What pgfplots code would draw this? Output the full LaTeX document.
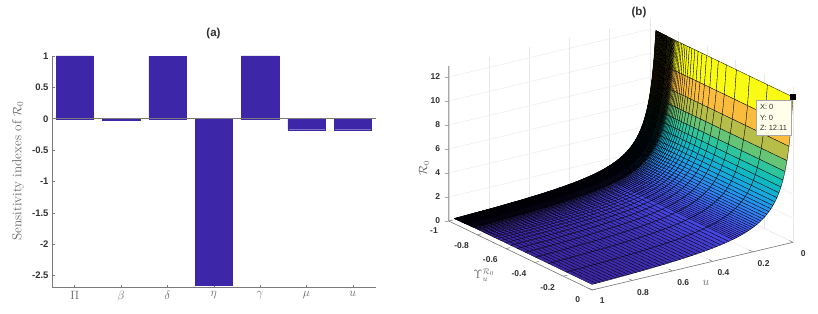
\documentclass[border=0pt]{standalone}
\usepackage{fontspec}
\setsansfont{Liberation Sans}
\usepackage{pgfplots}
\usepackage{etoolbox}
\pgfplotsset{compat=1.18}
\definecolor{barblue}{rgb}{0.2422,0.1504,0.6603}
\definecolor{axgray}{HTML}{7A7A7A}
\definecolor{ticktxt}{HTML}{303030}
\definecolor{labgray}{HTML}{666666}
\definecolor{gridc}{HTML}{E8E8E8}
\pgfplotsset{colormap={parula}{
rgb=(0.2422,0.1504,0.6603)
rgb=(0.2813,0.3006,0.9414)
rgb=(0.1786,0.5289,0.9682)
rgb=(0.0800,0.6600,0.8800)
rgb=(0.0500,0.7400,0.7400)
rgb=(0.2200,0.7800,0.5800)
rgb=(0.5500,0.7600,0.3600)
rgb=(0.8600,0.7300,0.2200)
rgb=(0.9900,0.7400,0.2400)
rgb=(0.9600,0.8900,0.1400)
rgb=(0.9769,0.9839,0.0805)}}
% Upsilon grid, in three parts
\def\YA{-0.9560,-0.9552,-0.9543,-0.9534,-0.9524,-0.9514,-0.9503,-0.9492,-0.9481,-0.9469,-0.9456,-0.9443,-0.9429,-0.9415,-0.9399,-0.9383,-0.9366,-0.9348,-0.9329,-0.9309,-0.9288,-0.9265,-0.9241,-0.9215,-0.9187,-0.9158,-0.9125,-0.9091,-0.9053,-0.9013,-0.8969,-0.8945,-0.8920,-0.8894,-0.8867,-0.8839,-0.8808,-0.8777}
\def\YB{-0.8777,-0.8743,-0.8708,-0.8671,-0.8631,-0.8589,-0.8544,-0.8497,-0.8446,-0.8392,-0.8333,-0.8271}
\def\YC{-0.8271,-0.8203,-0.8130,-0.8051,-0.7965,-0.7870,-0.7767,-0.7653,-0.7527,-0.7386,-0.7229,-0.7051,-0.6849,-0.6618,-0.6349,-0.6034,-0.5660,-0.5208,-0.4651,-0.3947,-0.3030,-0.1786,0}
% u / R0
\def\Ulist{0/12.11,0.01/9.688,0.02/8.073,0.03/6.92,0.04/6.055,0.05/5.382,0.06/4.844,0.07/4.404,0.08/4.037,0.09/3.726,0.10/3.46,0.11/3.229,0.12/3.028,0.13/2.849,0.14/2.691,0.15/2.549,0.16/2.422,0.17/2.307,0.18/2.202,0.19/2.106,0.20/2.018,0.21/1.938,0.22/1.863,0.23/1.794,0.24/1.73,0.25/1.67,0.26/1.615,0.27/1.563,0.28/1.514,0.29/1.468,0.30/1.425,0.32/1.346,0.34/1.275,0.36/1.211,0.38/1.153,0.40/1.101,0.42/1.053,0.44/1.009,0.46/0.969,0.48/0.932,0.50/0.897,0.52/0.865,0.54/0.835,0.56/0.807,0.58/0.781,0.60/0.757,0.62/0.734,0.64/0.712,0.66/0.692,0.68/0.673,0.70/0.655,0.72/0.637,0.74/0.621,0.76/0.606,0.78/0.591,0.80/0.577,0.82/0.563,0.84/0.551,0.86/0.538,0.88/0.527,0.90/0.515,0.92/0.505,0.94/0.494,0.96/0.484,0.98/0.475,1.00/0.466}
\gdef\coordsA{}\gdef\coordsB{}\gdef\coordsC{}
\foreach \y in \YA {\foreach \u/\z in \Ulist {\xappto\coordsA{(\u,\y,\z) }}}
\foreach \y in \YB {\foreach \u/\z in \Ulist {\xappto\coordsB{(\u,\y,\z) }}}
\foreach \y in \YC {\foreach \u/\z in \Ulist {\xappto\coordsC{(\u,\y,\z) }}}
\newcommand\surfplot[3]{\addplot3[surf,shader=flat corner,draw=black,line width=#1,mesh/rows=#2,mesh/cols=66,point meta=z] coordinates {#3};}
\begin{document}
\begin{tikzpicture}[x=1pt,y=1pt]
\path[use as bounding box] (0,0) rectangle (818,313);
% ---------- (a)
\begin{axis}[at={(52pt,25.5pt)},anchor=south west,scale only axis,width=324pt,height=231.5pt,
 xmin=0.51,xmax=7.5,ymin=-2.69,ymax=1,
 axis x line=bottom,axis y line=left,axis line style={axgray,-},
 tick style={axgray,line width=0.5pt},major tick length=3pt,tick align=inside,
 xtick={1,2,3,4,5,6,7},
 xticklabels={$\Pi$,$\beta$,$\delta$,$\eta$,$\gamma$,$\mu$,$u$},
 xticklabel style={labgray,font=\fontsize{12}{12}\selectfont},
 ytick={-2.5,-2,-1.5,-1,-0.5,0,0.5,1},
 yticklabels={-2.5,-2,-1.5,-1,-0.5,0,0.5,1},
 yticklabel style={ticktxt,font=\sffamily\bfseries\fontsize{9.5}{10}\selectfont},
 clip=false]
\addplot[ybar,bar width=37.3pt,bar shift=0pt,fill=barblue,draw=barblue,line width=0.4pt]
 coordinates {(1,1) (2,-0.03) (3,0.99) (4,-2.66) (5,1) (6,-0.175) (7,-0.175)};
\draw[axgray,line width=0.5pt] (axis cs:0.51,0)--(axis cs:7.5,0);
\end{axis}
\node[ticktxt,font=\sffamily\bfseries\fontsize{11.5}{12}\selectfont] at (213.5,279) {(a)};
\node[labgray,rotate=90,font=\fontsize{13.2}{14}\selectfont] at (18,142) {Sensitivity indexes of $\mathcal{R}_0$};
% ---------- (b)
\begin{axis}[at={(793pt,70.7pt)},anchor=origin,
 x={(-201pt,-47.7pt)},y={(143.3pt,-69pt)},z={(0pt,12pt)},
 xmin=0,xmax=1,ymin=-1,ymax=0,zmin=0,zmax=12.9,
 point meta min=0.466,point meta max=12.11,colormap name=parula,
 xtick={0,0.2,0.4,0.6,0.8,1},xticklabels={0,0.2,0.4,0.6,0.8,1},
 ytick={-1,-0.8,-0.6,-0.4,-0.2,0},yticklabels={-1,-0.8,-0.6,-0.4,-0.2,0},
 ztick={0,2,4,6,8,10,12},zticklabels={0,2,4,6,8,10,12},
 grid=major,major grid style={gridc,line width=0.4pt},
 axis line style={draw=none},
 major tick length=0pt,tick style={draw=none},
 xtick pos=left,ytick pos=left,ztick pos=left,
 ticklabel style={ticktxt,font=\sffamily\bfseries\fontsize{8.5}{9}\selectfont},
 xticklabel style={xshift=6pt,yshift=-4pt},
 yticklabel style={xshift=-9pt,yshift=-2.5pt},
 zticklabel style={xshift=-5pt},
 clip=false]
\expandafter\surfplot\expandafter{\expandafter0\expandafter.\expandafter3\expandafter0\expandafter p\expandafter t\expandafter}\expandafter{\expandafter2\expandafter3\expandafter}\expandafter{\coordsC}
\expandafter\surfplot\expandafter{\expandafter0\expandafter.\expandafter5\expandafter p\expandafter t\expandafter}\expandafter{\expandafter1\expandafter2\expandafter}\expandafter{\coordsB}
\expandafter\surfplot\expandafter{\expandafter0\expandafter.\expandafter8\expandafter p\expandafter t\expandafter}\expandafter{\expandafter3\expandafter8\expandafter}\expandafter{\coordsA}
\addplot3[only marks,mark=square*,mark size=2.5pt,black] coordinates {(0,0,12.11)};
\draw[axgray,line width=0.6pt] (axis cs:0,0,0)--(axis cs:1,0,0)--(axis cs:1,-1,0)--(axis cs:1,-1,12.9);
\pgfplotsinvokeforeach{0,0.2,0.4,0.6,0.8,1}{\draw[axgray,line width=0.5pt] (axis cs:#1,0,0)--(axis cs:#1,-0.025,0);}
\pgfplotsinvokeforeach{-1,-0.8,-0.6,-0.4,-0.2,0}{\draw[axgray,line width=0.5pt] (axis cs:1,#1,0)--(axis cs:0.98,#1,0);}
\pgfplotsinvokeforeach{0,2,4,6,8,10,12}{\draw[axgray,line width=0.5pt] (axis cs:1,-1,#1)--(axis cs:1.02,-1,#1);}
\end{axis}
\node[ticktxt,font=\sffamily\bfseries\fontsize{11.5}{12}\selectfont] at (639,300) {(b)};
\node[labgray,rotate=90,font=\fontsize{12}{12}\selectfont] at (424,145) {$\mathcal{R}_0$};
\node[labgray,font=\fontsize{12}{12}\selectfont] at (484,38) {$\Upsilon_u^{\mathcal{R}_0}$};
\node[labgray,font=\fontsize{12}{12}\selectfont] at (706,30) {$u$};
\node[draw=gray!70,fill=yellow!8,line width=0.4pt,minimum width=35pt,minimum height=35pt,inner sep=2pt,align=left,font=\sffamily\fontsize{7.5}{10.5}\selectfont,text=ticktxt] at (773.5,195.5) {X: 0\\Y: 0\\Z: 12.11};
\end{tikzpicture}
\end{document}
